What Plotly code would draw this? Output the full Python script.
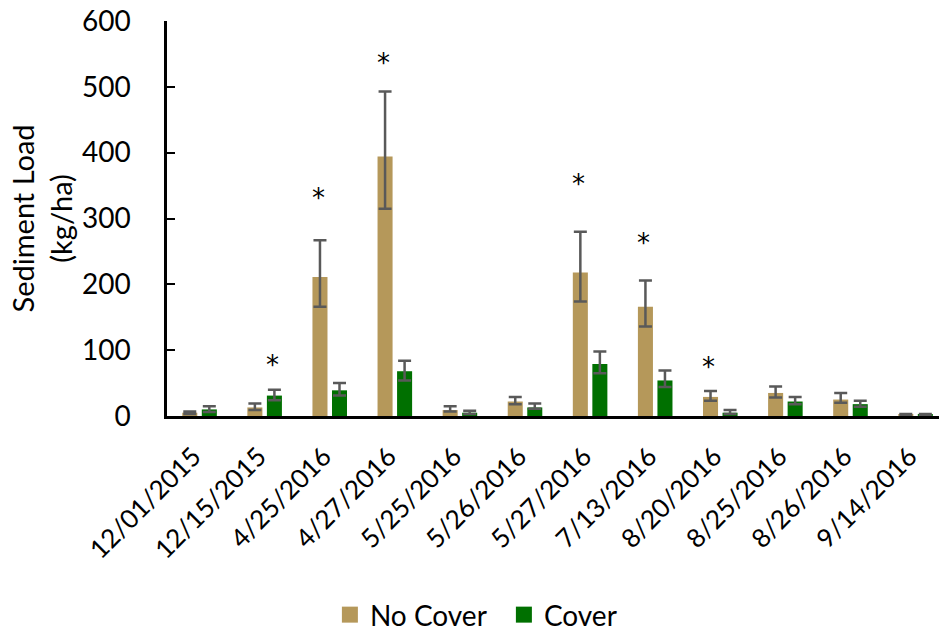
import plotly.graph_objects as go

dates = ["12/01/2015", "12/15/2015", "4/25/2016", "4/27/2016", "5/25/2016", "5/26/2016",
         "5/27/2016", "7/13/2016", "8/20/2016", "8/25/2016", "8/26/2016", "9/14/2016"]
no_cover = [5, 13, 211, 394, 9, 22, 218, 166, 29, 35, 25, 2]
no_cover_plus = [2, 6, 56, 99, 6, 7, 62, 40, 9, 10, 10, 1]
no_cover_minus = [2, 4, 45, 79, 2, 4, 44, 30, 6, 7, 5, 1]
cover = [10, 31, 39, 68, 5, 13, 79, 54, 5, 22, 18, 2]
cover_plus = [5, 9, 11, 16, 3, 6, 19, 15, 4, 7, 5, 1]
cover_minus = [4, 7, 8, 14, 2, 2, 14, 10, 2, 4, 4, 1]

sig_dates = ["12/15/2015", "4/25/2016", "4/27/2016", "5/27/2016", "7/13/2016", "8/20/2016"]
sig_series = ["Cover", "No Cover", "No Cover", "No Cover", "No Cover", "No Cover"]
sig_y = [86, 340, 545, 361, 272, 83]

y_ticks = [0, 100, 200, 300, 400, 500, 600]

FONT = "Lato, Open Sans, sans-serif"
TAN = "#B5985A"
GREEN = "#007000"
ERR = "#595959"

fig = go.Figure()
fig.add_trace(go.Bar(
    name="No Cover", x=dates, y=no_cover, marker=dict(color=TAN, line=dict(width=0)),
    showlegend=False,
    error_y=dict(type="data", symmetric=False, array=no_cover_plus, arrayminus=no_cover_minus,
                 color=ERR, thickness=2.5, width=6.5),
))
fig.add_trace(go.Bar(
    name="Cover", x=dates, y=cover, marker=dict(color=GREEN, line=dict(width=0)),
    showlegend=False,
    error_y=dict(type="data", symmetric=False, array=cover_plus, arrayminus=cover_minus,
                 color=ERR, thickness=2.5, width=6.5),
))
# legend-only entries with larger square swatches
for nm, col in [("No Cover", TAN), ("Cover", GREEN)]:
    fig.add_trace(go.Scatter(
        name=nm, x=[None], y=[None], mode="markers",
        marker=dict(symbol="square", size=16, color=col),
    ))

for d, s, yv in zip(sig_dates, sig_series, sig_y):
    fig.add_annotation(
        x=d, y=yv, xref="x", yref="y", text="*", showarrow=False,
        xshift=(-11.5 if s == "No Cover" else 8), yshift=-6,
        font=dict(family="DejaVu Sans", size=26, color="black"),
    )

fig.add_annotation(
    xref="paper", yref="paper", x=-0.162, y=0.5, xanchor="center", yanchor="middle",
    text="Sediment Load<br>(kg/ha)", textangle=-90, showarrow=False,
    font=dict(family=FONT, size=29, color="black"),
)

fig.update_layout(
    width=939, height=632,
    margin=dict(l=167, r=0, t=21, b=216),
    paper_bgcolor="white", plot_bgcolor="white",
    barmode="group", bargap=0.40, bargroupgap=0.23,
    font=dict(family=FONT, color="black"),
    showlegend=True,
    legend=dict(orientation="h", x=0.211, xref="paper", y=0.027, yref="container",
                xanchor="left", yanchor="middle",
                font=dict(family=FONT, size=28, color="black"), itemwidth=30,
                entrywidth=129, entrywidthmode="pixels",
                traceorder="normal"),
    xaxis=dict(
        type="category", range=[-0.5, 11.36], automargin=False,
        showline=True, linecolor="black", linewidth=3,
        ticks="", tickangle=-45, tickfont=dict(family=FONT, size=26, color="black"),
        ticklabelstandoff=12, ticklabelshift=-6,
        showgrid=False, zeroline=False,
    ),
    yaxis=dict(
        range=[0, 600], tickvals=y_ticks, ticktext=[str(v) for v in y_ticks],
        automargin=False,
        showline=True, linecolor="black", linewidth=2.5,
        ticks="inside", ticklen=8, tickwidth=2, tickcolor="black",
        ticklabelstandoff=28,
        tickfont=dict(family=FONT, size=28, color="black"),
        showgrid=False, zeroline=False,
    ),
)

fig.write_html("out.html", config={"displayModeBar": False},
               post_script="document.body.style.margin='0';")
